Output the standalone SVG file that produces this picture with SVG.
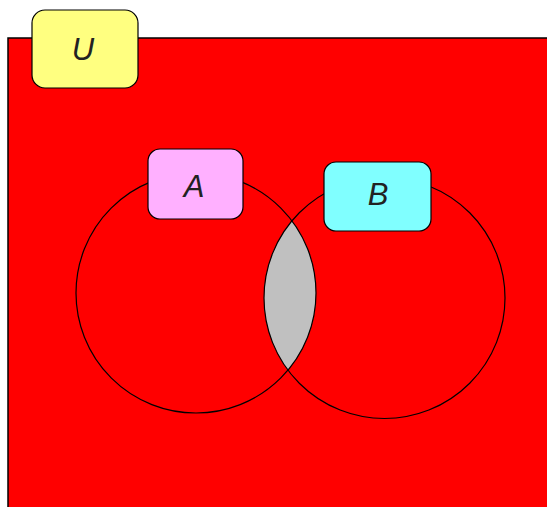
<svg xmlns="http://www.w3.org/2000/svg" width="547" height="507" viewBox="0 0 547 507">
<style>
.lbl{stroke:#000;stroke-width:1.2}
.t{font-family:"Liberation Sans",Arial,sans-serif;font-style:italic;font-size:31px;fill:#222;text-anchor:middle}
.c{fill:none;stroke:#000;stroke-width:1.2}
</style>
<defs>
<clipPath id="clipA"><circle cx="196" cy="293" r="120"/></clipPath>
</defs>
<g id="universe">
<rect x="8" y="38" width="560" height="490" fill="#ff0000" stroke="#000" stroke-width="1.5"/>
</g>
<g id="intersection">
<circle cx="384.5" cy="298" r="120.5" fill="#c0c0c0" clip-path="url(#clipA)"/>
</g>
<g id="circles">
<circle id="circleA" class="c" cx="196" cy="293" r="120"/>
<circle id="circleB" class="c" cx="384.5" cy="298" r="120.5"/>
</g>
<g id="U">
<rect class="lbl" x="32" y="10" width="106" height="78" rx="13" fill="#ffff80"/>
<text class="t" x="83" y="60">U</text>
</g>
<g id="A">
<rect class="lbl" x="148" y="149" width="95" height="70" rx="12" fill="#ffb0ff"/>
<text class="t" x="194" y="197">A</text>
</g>
<g id="B">
<rect class="lbl" x="324" y="162" width="107" height="69" rx="12" fill="#80ffff"/>
<text class="t" x="378" y="205">B</text>
</g>
</svg>
